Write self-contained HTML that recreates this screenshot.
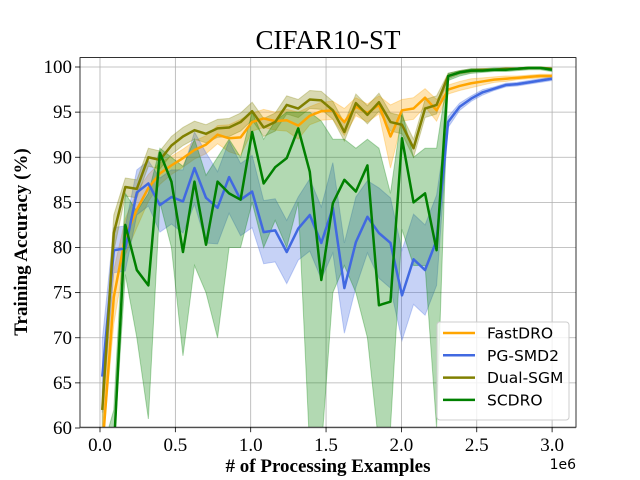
<!DOCTYPE html>
<html><head><meta charset="utf-8"><style>
html,body{margin:0;padding:0;width:640px;height:480px;overflow:hidden;background:#fff}
svg{display:block}
text{font-family:"Liberation Serif",serif}
</style></head><body>
<svg id="chart" width="640" height="480" xmlns="http://www.w3.org/2000/svg"></svg>
<script>
const xValues=[];for(let i=0;i<40;i++)xValues.push(+(0.015+i*0.0765).toFixed(4));
const fastdro=[57,74.5,81.2,84.2,86.6,88.2,89.1,89.9,90.8,91.4,92.5,92.1,92.2,93.9,94.3,94.0,94.1,93.5,94.6,95.1,95.2,93.9,95.6,94.9,95.8,92.3,95.2,95.4,96.6,95.2,97.5,97.9,98.2,98.4,98.6,98.7,98.8,98.9,99.0,99.0];
const fastdroBand=[3,3,2,2,1.5,1.2,1,1,1,1,1,1.5,2,1,1,1,1.2,1.5,1,1,1,1.5,1,1,1,3.5,1.2,1.2,1,1.2,0.5,0.5,0.5,0.4,0.3,0.3,0.2,0.2,0.2,0.2];
const pgsmd2=[65.7,79.7,79.9,86.1,87.1,84.7,85.6,85.1,88.8,85.5,84.4,87.8,85.3,86.2,81.7,81.9,79.5,82.1,83.6,80.5,84.4,75.5,80.6,83.4,81.6,80.5,74.7,78.7,77.5,80.8,93.9,95.6,96.5,97.2,97.6,98.0,98.1,98.3,98.5,98.7];
const pgsmd2Band=[4,2.5,2.5,2.5,2.5,3,3,3.5,4,5,4,4,4,4,3.5,3.5,3.5,3.5,4,4,5,5,5,4,5,5,5,5,5,5,0.6,0.4,0.3,0.3,0.2,0.2,0.2,0.2,0.2,0.2];
const dualsgm=[62,81.6,86.7,86.5,90,89.7,91.3,92.3,93.0,92.6,93.2,93.3,93.9,95.1,93.3,93.9,95.8,95.4,96.4,96.3,95.2,92.8,96.0,94.7,96.1,93.9,93.6,91.0,95.4,95.8,99.0,99.4,99.6,99.7,99.7,99.8,99.8,99.9,99.9,99.8];
const dualsgmBand=[2,2,1,1,1,1,1,1,1,1,1,1,1,1,1,1,1,1,1,1,1,1,1,1,1,1,1,1,1,1,0.3,0.2,0.2,0.1,0.1,0.1,0.1,0.1,0.1,0.1];
const scdro=[50,52,82.5,77.5,75.8,90.5,87.3,79.5,87.3,80.3,87.3,86.0,85.3,92.8,87.1,88.9,89.9,93.2,88.4,76.4,84.9,87.5,86.2,89.1,73.6,74.0,92.1,85.0,86.0,79.7,99.0,99.4,99.6,99.6,99.7,99.7,99.8,99.9,99.9,99.7];
const scdroLow=[45,45,77,70,61,85,80,68,78,75,70,80,80,85,80,83,80,85,55,55,75,78,75,70,58,60,82,78,78,60,98.5,99,99.3,99.4,99.5,99.5,99.6,99.7,99.7,99.5];
const scdroHigh=[55,62,86,84,86,91,90,89,92,88,90,92,90,95,92,94,95,95,95,94,92,92,91,92,91,86,95,90,91,91,99.3,99.6,99.8,99.8,99.9,99.9,99.9,100,100,99.9];
const xTicks=[0,0.5,1.0,1.5,2.0,2.5,3.0];
const xTickLabels=["0.0","0.5","1.0","1.5","2.0","2.5","3.0"];
const yTicks=[60,65,70,75,80,85,90,95,100];

const svg=document.getElementById('chart');
const NS='http://www.w3.org/2000/svg';
const L=80,R=576,T=57.6,B=427.2;
function X(v){return 100+(v)*150.7;}
function Y(v){v=Math.max(57.5,Math.min(101,v));return 428-(v-60)*9.025;}
function mk(tag,attrs,parent){const e=document.createElementNS(NS,tag);for(const k in attrs)e.setAttribute(k,attrs[k]);(parent||svg).appendChild(e);return e;}
const defs=mk('defs',{});const cp=mk('clipPath',{id:'clip'},defs);mk('rect',{x:L,y:T,width:R-L,height:B-T},cp);
const grid=mk('g',{});
xTicks.forEach((t,i)=>{
 const l=mk('line',{x1:X(t),x2:X(t),y1:T,y2:B,stroke:'#b0b0b0','stroke-width':0.8},grid);
 
 const tk=mk('line',{x1:X(t),x2:X(t),y1:B,y2:B+5,stroke:'#000','stroke-width':0.8});
 
 const tx=mk('text',{x:X(t),y:B+24,'text-anchor':'middle','font-size':19});tx.textContent=xTickLabels[i];
 
});
yTicks.forEach(t=>{
 const l=mk('line',{x1:L,x2:R,y1:Y(t),y2:Y(t),stroke:'#b0b0b0','stroke-width':0.8},grid);
 
 const tk=mk('line',{x1:L-5,x2:L,y1:Y(t),y2:Y(t),stroke:'#000','stroke-width':0.8});
 
 const tx=mk('text',{x:L-8,y:Y(t)+6,'text-anchor':'end','font-size':19});tx.textContent=String(t);
 
});
const plot=mk('g',{'clip-path':'url(#clip)'});
function band(lo,hi,color,name){
 let d='M'+xValues.map((x,i)=>X(x)+','+Y(hi[i])).join('L');
 d+='L'+xValues.map((x,i)=>X(x)+','+Y(lo[i])).reverse().join('L')+'Z';
 const p=mk('path',{d:d,fill:color,'fill-opacity':0.3,stroke:color,'stroke-opacity':0.3,'stroke-width':1},plot);
 
}
function line(vals,color,name){
 const p=mk('polyline',{points:xValues.map((x,i)=>X(x)+','+Y(vals[i])).join(' '),fill:'none',stroke:color,'stroke-width':2.5,'stroke-linejoin':'round'},plot);
 
}
const series=[[fastdro,fastdroBand,'#ffa500','fastdro'],[pgsmd2,pgsmd2Band,'#4169e1','pg-smd2'],[dualsgm,dualsgmBand,'#808000','dual-sgm']];
series.forEach(s=>band(s[0].map((v,i)=>v-s[1][i]),s[0].map((v,i)=>v+s[1][i]),s[2],s[3]+'-band'));
band(scdroLow,scdroHigh,'#008000','scdro-band');
series.forEach(s=>line(s[0],s[2],s[3]+'-line'));
line(scdro,'#008000','scdro-line');
const fr=mk('rect',{x:L,y:T,width:R-L,height:B-T,fill:'none',stroke:'#000','stroke-width':0.8});

const title=mk('text',{x:328,y:49,'text-anchor':'middle','font-size':27});title.textContent='CIFAR10-ST';

const xl=mk('text',{x:328,y:472,'text-anchor':'middle','font-size':19,'font-weight':'bold'});xl.textContent='# of Processing Examples';

const yl=mk('text',{x:0,y:0,'text-anchor':'middle','font-size':19,'font-weight':'bold',transform:'translate(27,242) rotate(-90)'});yl.textContent='Training Accuracy (%)';

const ex=mk('text',{x:576,y:469,'text-anchor':'end','font-size':14,style:'font-family:"DejaVu Sans",sans-serif'});ex.textContent='1e6';

const lg=mk('g',{});
mk('rect',{x:437,y:322,width:132,height:98,rx:3,fill:'#fff','fill-opacity':0.8,stroke:'#ccc','stroke-width':1},lg);
const entries=[['FastDRO','#ffa500'],['PG-SMD2','#4169e1'],['Dual-SGM','#808000'],['SCDRO','#008000']];
entries.forEach((e,i)=>{
 const g=mk('g',{},lg);
 const y=333+i*22.3;
 mk('line',{x1:443,x2:475,y1:y,y2:y,stroke:e[1],'stroke-width':2.5},g);
 const t=mk('text',{x:487,y:y+5.5,'font-size':15.5,style:'font-family:"DejaVu Sans",sans-serif'},g);t.textContent=e[0];
});
</script>
</body></html>
